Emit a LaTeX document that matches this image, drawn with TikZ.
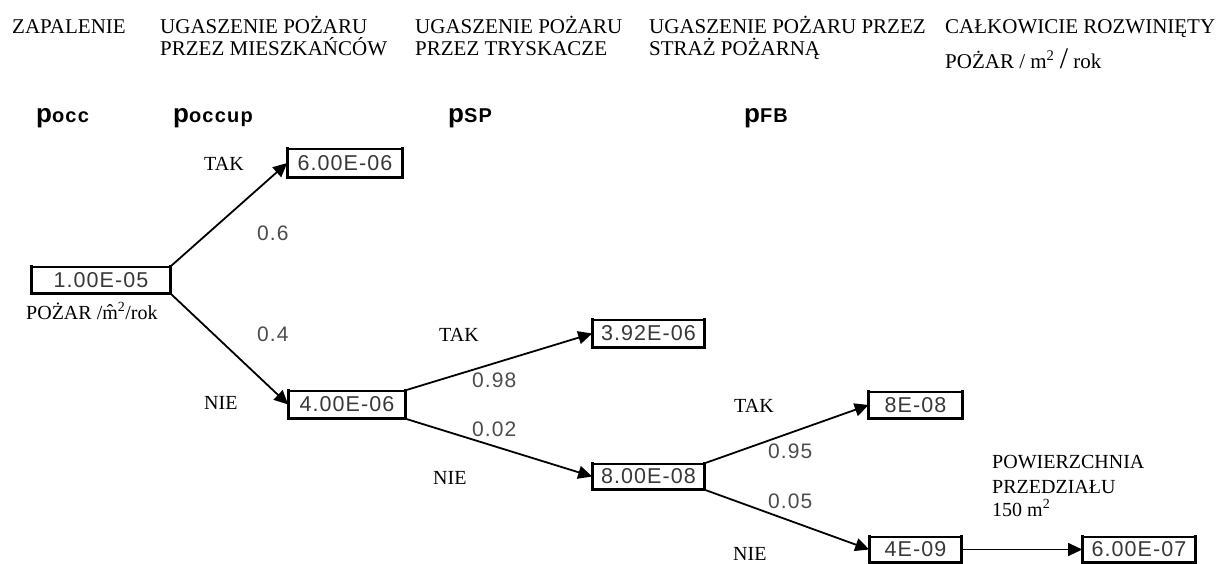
\documentclass[tikz,border=0pt]{standalone}
\usepackage{fontspec}
\setmainfont{Liberation Serif}
\newfontfamily\numfont{Liberation Sans}[LetterSpace=5]
\newfontfamily\subfont{Liberation Sans}[LetterSpace=6]
\usetikzlibrary{arrows.meta}
\begin{document}
\begin{tikzpicture}[x=1pt,y=-1pt,
  txt/.style={anchor=base west, inner sep=0pt, font=\fontsize{21}{22}\selectfont},
  lbl/.style={anchor=base west, inner sep=0pt, font=\fontsize{20}{22}\selectfont},
  prob/.style={anchor=base west, inner sep=0pt, text=black!70, font=\numfont\fontsize{21}{22}\selectfont},
  plab/.style={anchor=base west, inner sep=0pt},
  valbox/.style={draw=black, line width=1.6pt, inner sep=0pt, text=black!78,
    font=\numfont\fontsize{21.5}{22}\selectfont},
  arr/.style={line width=1.8pt, -{Triangle[length=14pt,width=13pt]}},
  thinarr/.style={line width=1.1pt, -{Triangle[length=14pt,width=13pt]}}]
\useasboundingbox (0,0) rectangle (1218,563);

% column headings
\node[txt] (h1)  at (12,33)  {ZAPALENIE};
\node[txt] (h2a) at (160,33) {UGASZENIE POŻARU};
\node[txt] (h2b) at (160,55) {PRZEZ MIESZKAŃCÓW};
\node[txt] (h3a) at (415,33) {UGASZENIE POŻARU};
\node[txt] (h3b) at (415,55) {PRZEZ TRYSKACZE};
\node[txt] (h4a) at (649,33) {UGASZENIE POŻARU PRZEZ};
\node[txt] (h4b) at (649,55) {STRAŻ POŻARNĄ};
\node[txt] (h5a) at (945,33) {CAŁKOWICIE ROZWINIĘTY};
\node[txt] (h5b) at (945,68) {POŻAR / m\textsuperscript{2} {\fontsize{30}{30}\selectfont /} rok};

% probability symbols
\newcommand{\psym}[1]{{\fontspec{Liberation Sans}\fontsize{26}{26}\selectfont\bfseries p}{\subfont\fontsize{20}{20}\selectfont\bfseries #1}}
\node[plab] (pocc)   at (36,122)  {\psym{occ}};
\node[plab] (poccup) at (173,122) {\psym{occup}};
\node[plab] (psp)    at (448,122) {\psym{SP}};
\node[plab] (pfb)    at (744,122) {\psym{FB}};

% event tree values
\node[valbox, minimum width=138pt, minimum height=26pt] (b1) at (101,280)   {1.00E-05};
\node[valbox, minimum width=114pt, minimum height=28pt] (b2) at (345,163)   {6.00E-06};
\node[valbox, minimum width=116pt, minimum height=27pt] (b3) at (347,404.5) {4.00E-06};
\node[valbox, minimum width=111pt, minimum height=27pt] (b4) at (648.5,333.5) {3.92E-06};
\node[valbox, minimum width=111pt, minimum height=25pt] (b5) at (648.5,476.5) {8.00E-08};
\node[valbox, minimum width=92pt,  minimum height=26pt] (b6) at (915.5,405) {8E-08};
\node[valbox, minimum width=91pt,  minimum height=25pt] (b7) at (915.5,549.5) {4E-09};
\node[valbox, minimum width=112pt, minimum height=25pt] (b8) at (1139,549.5) {6.00E-07};

% heavier left, bottom and right edges of the value boxes
\foreach \b in {b1,b2,b3,b4,b5,b6,b7,b8}
  \draw[line width=3pt, line cap=rect]
    (\b.north west) -- (\b.south west) -- (\b.south east) -- (\b.north east);

% branches
\draw[arr] (b1.north east) -- (b2.west);
\draw[arr] (b1.south east) -- (b3.west);
\draw[arr] (b3.north east) -- (b4.west);
\draw[arr] (b3.south east) -- (b5.west);
\draw[arr] (b5.north east) -- (b6.west);
\draw[arr] (b5.south east) -- (b7.west);
\draw[thinarr] (b7.east) -- (b8.west);

% branch labels
\node[lbl] (l1) at (26,319) {POŻAR /\^{m}\textsuperscript{2}/rok};
\node[lbl] (t1) at (204,170) {TAK};
\node[prob] (p1) at (257,240) {0.6};
\node[prob] (p2) at (257,341) {0.4};
\node[lbl] (n1) at (204,409) {NIE};
\node[lbl] (t2) at (439,341) {TAK};
\node[prob] (p3) at (472,387) {0.98};
\node[prob] (p4) at (472,436) {0.02};
\node[lbl] (n2) at (433,484) {NIE};
\node[lbl] (t3) at (734,412) {TAK};
\node[prob] (p5) at (768,458) {0.95};
\node[prob] (p6) at (768,508) {0.05};
\node[lbl] (n3) at (733,560) {NIE};

% compartment area note
\node[lbl] (a1) at (992,468) {POWIERZCHNIA};
\node[lbl] (a2) at (992,493) {PRZEDZIAŁU};
\node[lbl] (a3) at (992,516) {150 m\textsuperscript{2}};
\end{tikzpicture}
\end{document}
